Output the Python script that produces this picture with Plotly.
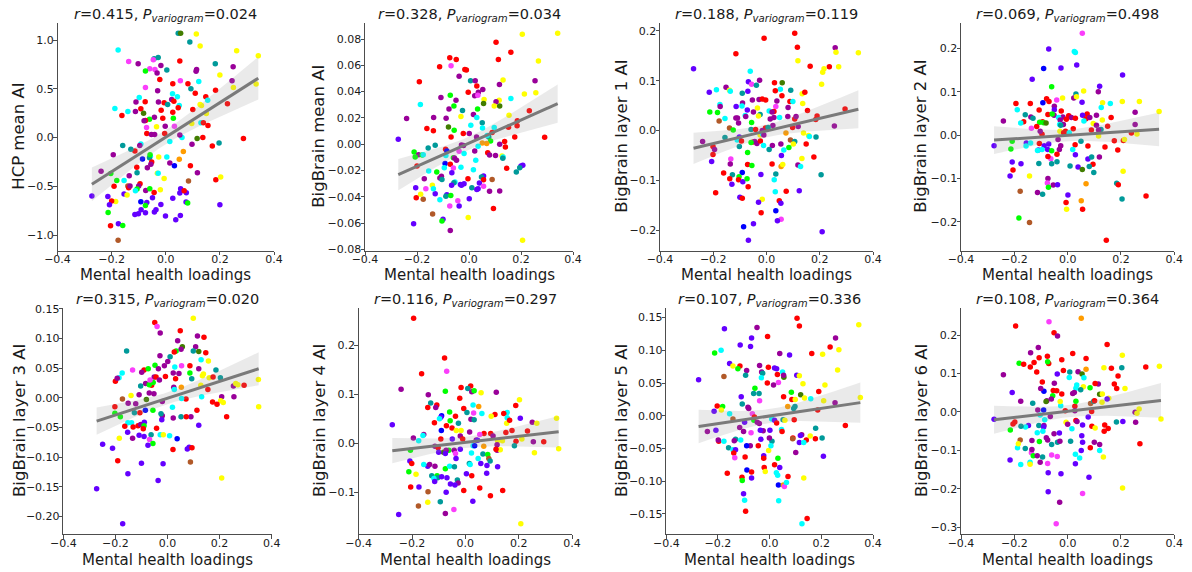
import numpy as np
import plotly.graph_objects as go

# ---------------- data ----------------
# network codes -> Cole-Anticevic network colours
NET_COLORS = {
    'R': '#ff0000', 'Y': '#ffff00', 'V': '#6400ff', 'P': '#990099', 'C': '#00ffff',
    'T': '#009a9a', 'G': '#00ff00', 'D': '#417d00', 'M': '#fa3efb', 'B': '#0000ff',
    'O': '#ff9c00', 'N': '#b15928'}

x_label = "Mental health loadings"
y_labels = ["HCP mean AI", "BigBrain mean AI", "BigBrain layer 1 AI", "BigBrain layer 2 AI",
            "BigBrain layer 3 AI", "BigBrain layer 4 AI", "BigBrain layer 5 AI", "BigBrain layer 6 AI"]
r_values = ["0.415", "0.328", "0.188", "0.069", "0.315", "0.116", "0.107", "0.108"]
p_values = ["0.024", "0.034", "0.119", "0.498", "0.020", "0.297", "0.336", "0.364"]
x_ticks = [-0.4, -0.2, 0.0, 0.2, 0.4]
y_ticks = [
    [-1.0, -0.5, 0.0, 0.5, 1.0],
    [-0.08, -0.06, -0.04, -0.02, 0.0, 0.02, 0.04, 0.06, 0.08],
    [-0.2, -0.1, 0.0, 0.1, 0.2],
    [-0.2, -0.1, 0.0, 0.1, 0.2],
    [-0.20, -0.15, -0.10, -0.05, 0.0, 0.05, 0.10, 0.15],
    [-0.1, 0.0, 0.1, 0.2],
    [-0.15, -0.10, -0.05, 0.0, 0.05, 0.10, 0.15],
    [-0.3, -0.2, -0.1, 0.0, 0.1, 0.2],
]
y_tick_formats = ['.1f', '.2f', '.1f', '.1f', '.2f', '.1f', '.2f', '.1f']

hcp_mean = [(0.046,1.07,'T'),(0.055,1.07,'D'),(0.113,1.063,'Y'),(0.089,0.98,'T'),(0.127,0.94,'Y'),(-0.176,0.899,'C'),(0.262,0.892,'Y'),(0.342,0.84,'Y'),(0.052,0.786,'R'),(-0.137,0.78,'M'),(-0.102,0.758,'P'),(-0.043,0.81,'T'),(-0.028,0.823,'T'),(-0.046,0.80,'M'),(0.183,0.758,'T'),(-0.018,0.741,'P'),(-0.059,0.707,'M'),(-0.040,0.70,'M'),(-0.075,0.683,'G'),(-0.032,0.662,'P'),(0.004,0.693,'T'),(0.114,0.70,'P'),(0.112,0.68,'P'),(0.249,0.727,'P'),(0.2,0.642,'Y'),(-0.022,0.597,'R'),(0.054,0.583,'M'),(0.245,0.583,'P'),(0.026,0.552,'R'),(0.082,0.552,'R'),(0.093,0.50,'T'),(0.122,0.576,'C'),(-0.075,0.515,'M'),(0.25,0.515,'Y'),(0.334,0.549,'Y'),(-0.03,0.48,'P'),(0.109,0.456,'R'),(0.184,0.487,'R'),(0.025,0.45,'C'),(0.043,0.419,'C'),(0.148,0.419,'R'),(0.155,0.384,'C'),(0.022,0.391,'P'),(0.03,0.374,'R'),(-0.098,0.412,'C'),(-0.11,0.364,'P'),(-0.076,0.367,'R'),(-0.027,0.364,'P'),(-0.006,0.357,'R'),(0.007,0.34,'T'),(0.05,0.33,'C'),(0.046,0.305,'R'),(-0.188,0.298,'C'),(-0.14,0.268,'C'),(-0.112,0.268,'P'),(-0.092,0.295,'R'),(-0.017,0.281,'R'),(0.026,0.26,'R'),(0.127,0.34,'Y'),(0.132,0.33,'Y'),(0.10,0.288,'R'),(0.228,0.346,'R'),(-0.082,0.25,'D'),(-0.162,0.226,'R'),(0.15,0.247,'Y'),(-0.042,0.209,'P'),(-0.011,0.199,'R'),(-0.06,0.189,'G'),(0.028,0.199,'G'),(-0.075,0.175,'R'),(-0.08,0.172,'P'),(0.13,0.151,'C'),(0.139,0.151,'R'),(0.156,0.123,'R'),(0.096,0.144,'Y'),(-0.002,0.117,'P'),(0.032,0.117,'M'),(-0.034,0.11,'Y'),(-0.071,0.103,'M'),(-0.07,0.041,'R'),(-0.053,0.031,'P'),(-0.041,0.031,'P'),(-0.004,0.041,'R'),(0.116,-0.01,'D'),(0.137,0.0,'R'),(0.287,-0.01,'R'),(0.015,-0.041,'C'),(0.06,0.0,'C'),(0.052,0.027,'P'),(0.197,-0.055,'T'),(0.172,-0.086,'R'),(0.097,-0.069,'P'),(-0.159,-0.082,'T'),(-0.092,-0.065,'C'),(-0.096,-0.082,'P'),(-0.114,-0.137,'R'),(-0.129,-0.12,'T'),(-0.194,-0.175,'P'),(0.065,-0.144,'O'),(-0.057,-0.192,'C'),(-0.06,-0.206,'T'),(-0.058,-0.175,'G'),(-0.026,-0.199,'Y'),(0.004,-0.199,'C'),(-0.052,-0.25,'R'),(-0.055,-0.274,'P'),(0.015,-0.26,'P'),(0.05,-0.223,'O'),(-0.086,-0.22,'B'),(-0.068,-0.309,'P'),(0.032,-0.29,'B'),(-0.107,-0.305,'R'),(0.091,-0.29,'R'),(-0.106,-0.36,'T'),(0.117,-0.36,'P'),(-0.239,-0.346,'P'),(-0.031,-0.367,'Y'),(-0.028,-0.367,'C'),(-0.135,-0.391,'P'),(-0.203,-0.37,'G'),(-0.006,-0.419,'Y'),(0.185,-0.432,'R'),(0.203,-0.405,'Y'),(0.084,-0.446,'N'),(-0.181,-0.44,'G'),(-0.154,-0.44,'C'),(-0.095,-0.473,'R'),(-0.191,-0.50,'R'),(-0.14,-0.497,'N'),(-0.137,-0.515,'R'),(-0.132,-0.497,'P'),(-0.1,-0.497,'P'),(-0.106,-0.528,'G'),(-0.112,-0.545,'C'),(-0.074,-0.542,'P'),(-0.02,-0.535,'Y'),(-0.059,-0.525,'G'),(-0.043,-0.563,'R'),(0.055,-0.525,'V'),(0.052,-0.57,'V'),(0.076,-0.566,'V'),(0.068,-0.545,'R'),(-0.154,-0.58,'V'),(-0.143,-0.59,'Y'),(-0.214,-0.604,'V'),(-0.273,-0.60,'V'),(-0.049,-0.617,'V'),(0.026,-0.624,'V'),(-0.092,-0.66,'B'),(-0.07,-0.666,'V'),(-0.185,-0.655,'Y'),(-0.2,-0.652,'R'),(0.075,-0.662,'V'),(0.081,-0.672,'G'),(-0.018,-0.686,'V'),(0.2,-0.69,'V'),(-0.208,-0.69,'V'),(-0.075,-0.696,'G'),(-0.091,-0.741,'V'),(-0.036,-0.741,'V'),(-0.042,-0.765,'V'),(-0.075,-0.772,'V'),(-0.101,-0.782,'V'),(-0.114,-0.789,'V'),(-0.213,-0.768,'G'),(0.054,-0.8,'V'),(-0.001,-0.806,'V'),(0.037,-0.844,'V'),(-0.175,-0.885,'V'),(-0.159,-0.902,'G'),(-0.204,-0.906,'R'),(-0.176,-1.053,'N')]

bb_mean = [(0.205,0.0836,'Y'),(0.341,0.0843,'Y'),(0.104,0.0775,'R'),(0.161,0.070,'R'),(-0.074,0.0658,'R'),(-0.049,0.0645,'R'),(0.113,0.0645,'R'),(0.267,0.0632,'Y'),(-0.069,0.0597,'M'),(-0.113,0.0589,'R'),(-0.016,0.0569,'R'),(-0.01,0.0564,'R'),(-0.038,0.0516,'P'),(0.006,0.0483,'T'),(0.024,0.0483,'P'),(0.131,0.0488,'Y'),(0.254,0.0483,'P'),(-0.191,0.0475,'R'),(0.117,0.0455,'P'),(0.053,0.0417,'P'),(0.036,0.0396,'P'),(0.03,0.0442,'R'),(-0.003,0.0396,'R'),(0.257,0.0391,'Y'),(0.213,0.0381,'Y'),(-0.072,0.0373,'G'),(0.022,0.0368,'P'),(-0.108,0.0356,'P'),(-0.05,0.0335,'P'),(0.034,0.0373,'M'),(0.058,0.034,'Y'),(0.161,0.0348,'C'),(0.116,0.0335,'Y'),(0.104,0.0323,'P'),(-0.187,0.0302,'C'),(0.056,0.031,'D'),(0.097,0.029,'Y'),(0.118,0.029,'D'),(-0.058,0.029,'G'),(-0.077,0.0267,'P'),(0.033,0.0267,'G'),(-0.025,0.0257,'T'),(0.232,0.0254,'R'),(0.154,0.0221,'Y'),(0.017,0.0226,'P'),(-0.24,0.0196,'P'),(-0.136,0.0203,'P'),(-0.088,0.0198,'P'),(-0.031,0.0211,'Y'),(0.03,0.0203,'C'),(0.051,0.0163,'T'),(0.186,0.0178,'R'),(0.007,0.0145,'C'),(-0.162,0.0119,'R'),(-0.079,0.0132,'D'),(-0.057,0.0107,'G'),(-0.137,0.0102,'R'),(0.185,0.014,'R'),(0.152,0.013,'R'),(0.052,0.0124,'C'),(0.097,0.0127,'C'),(0.089,0.0089,'R'),(-0.022,0.0081,'R'),(0.001,0.0081,'P'),(-0.069,0.0056,'R'),(-0.272,0.0038,'V'),(0.176,0.0056,'R'),(0.291,0.0053,'R'),(0.076,0.0056,'T'),(0.029,0.0056,'P'),(0.07,0.0066,'C'),(0.137,0.002,'R'),(0.083,0.0025,'G'),(0.051,0.001,'O'),(0.068,0.0005,'O'),(0.035,-0.0015,'C'),(-0.13,-0.0008,'T'),(0.118,0.0,'P'),(0.14,-0.002,'R'),(-0.157,-0.0028,'T'),(-0.029,-0.0005,'P'),(-0.021,-0.001,'P'),(-0.09,-0.0038,'R'),(-0.085,-0.0051,'B'),(-0.211,-0.0058,'G'),(-0.194,-0.0079,'P'),(-0.18,-0.0081,'G'),(-0.176,-0.0079,'C'),(-0.207,-0.0097,'G'),(-0.038,-0.0053,'M'),(-0.089,-0.0086,'C'),(-0.019,-0.0071,'C'),(0.022,-0.0051,'P'),(0.072,-0.0064,'R'),(0.079,-0.0081,'P'),(0.102,-0.0086,'P'),(0.127,-0.0089,'Y'),(0.131,-0.0097,'C'),(-0.06,-0.0102,'G'),(-0.056,-0.0104,'P'),(-0.048,-0.0122,'P'),(0.026,-0.0122,'C'),(0.13,-0.0107,'T'),(-0.092,-0.0147,'B'),(-0.072,-0.0152,'R'),(0.2,-0.0165,'V'),(0.207,-0.016,'V'),(0.195,-0.0178,'T'),(-0.031,-0.0175,'C'),(0.145,-0.0183,'R'),(-0.06,-0.018,'M'),(-0.095,-0.0178,'C'),(-0.2,-0.0165,'R'),(-0.066,-0.0216,'V'),(0.182,-0.0211,'T'),(-0.155,-0.0203,'C'),(-0.124,-0.0211,'G'),(0.017,-0.0193,'C'),(-0.172,-0.0262,'P'),(-0.106,-0.0244,'P'),(-0.112,-0.0257,'P'),(-0.104,-0.0267,'T'),(-0.004,-0.0262,'R'),(0.056,-0.0241,'V'),(0.048,-0.0249,'T'),(0.056,-0.0269,'R'),(0.089,-0.0267,'N'),(-0.054,-0.0287,'C'),(-0.058,-0.0292,'T'),(-0.067,-0.0312,'V'),(-0.033,-0.0305,'V'),(-0.019,-0.03,'V'),(-0.029,-0.0312,'V'),(0.04,-0.0295,'V'),(0.056,-0.032,'M'),(0.011,-0.033,'T'),(0.035,-0.0338,'V'),(0.03,-0.0343,'V'),(0.079,-0.0358,'P'),(0.118,-0.0356,'P'),(-0.205,-0.033,'V'),(-0.166,-0.0338,'M'),(-0.13,-0.0376,'V'),(-0.141,-0.0312,'Y'),(-0.137,-0.0338,'C'),(-0.186,-0.0381,'Y'),(-0.085,-0.0383,'V'),(-0.089,-0.0396,'T'),(-0.07,-0.0389,'G'),(-0.112,-0.0422,'C'),(-0.176,-0.0419,'N'),(-0.203,-0.0406,'R'),(0.001,-0.0414,'V'),(-0.043,-0.0429,'M'),(-0.074,-0.047,'M'),(-0.038,-0.047,'V'),(0.094,-0.0488,'R'),(-0.14,-0.0531,'N'),(-0.003,-0.0556,'Y'),(-0.1,-0.0571,'V'),(-0.104,-0.0584,'G'),(-0.213,-0.0604,'V'),(-0.072,-0.0655,'P'),(0.206,-0.0729,'Y')]

bb_layer1 = [(0.106,0.195,'R'),(-0.009,0.185,'R'),(0.258,0.166,'P'),(0.116,0.167,'R'),(-0.115,0.154,'R'),(0.261,0.157,'Y'),(0.345,0.156,'Y'),(0.118,0.14,'Y'),(0.164,0.129,'R'),(0.236,0.128,'R'),(0.271,0.128,'Y'),(0.216,0.124,'Y'),(0.211,0.117,'Y'),(-0.274,0.124,'V'),(-0.061,0.119,'C'),(-0.026,0.101,'P'),(-0.068,0.098,'V'),(-0.056,0.093,'M'),(0.03,0.096,'R'),(0.059,0.096,'D'),(0.207,0.093,'Y'),(-0.038,0.091,'T'),(-0.152,0.087,'P'),(-0.188,0.082,'C'),(-0.215,0.077,'V'),(-0.139,0.081,'Y'),(-0.136,0.079,'C'),(-0.091,0.075,'T'),(-0.07,0.079,'V'),(0.052,0.083,'C'),(0.033,0.08,'R'),(0.091,0.081,'T'),(0.134,0.074,'Y'),(0.144,0.077,'R'),(0.058,0.07,'R'),(-0.053,0.061,'P'),(-0.028,0.062,'P'),(-0.016,0.063,'R'),(-0.003,0.061,'R'),(0.039,0.059,'P'),(0.088,0.058,'R'),(0.099,0.058,'C'),(-0.09,0.055,'P'),(0.136,0.054,'Y'),(-0.175,0.052,'C'),(-0.174,0.048,'P'),(-0.092,0.049,'C'),(-0.114,0.048,'V'),(0.081,0.046,'P'),(-0.034,0.045,'Y'),(0.035,0.048,'M'),(-0.072,0.041,'V'),(0.154,0.04,'R'),(-0.049,0.037,'P'),(-0.213,0.037,'G'),(-0.184,0.036,'G'),(0.295,0.043,'R'),(-0.024,0.032,'T'),(-0.03,0.029,'Y'),(0.01,0.039,'C'),(0.028,0.038,'R'),(0.021,0.037,'P'),(-0.08,0.03,'C'),(-0.115,0.025,'P'),(-0.109,0.025,'P'),(-0.156,0.024,'C'),(-0.078,0.028,'P'),(0.014,0.023,'P'),(0.028,0.026,'P'),(0.049,0.026,'C'),(0.08,0.028,'P'),(0.106,0.023,'R'),(0.111,0.028,'P'),(0.19,0.029,'R'),(0.185,0.022,'R'),(-0.056,0.016,'G'),(-0.105,0.015,'P'),(0.119,0.008,'P'),(0.098,0.006,'R'),(0.255,0.009,'P'),(0.024,0.01,'P'),(-0.178,0.019,'N'),(-0.139,0.005,'N'),(-0.125,0.001,'G'),(-0.058,0.002,'T'),(-0.041,0.002,'R'),(-0.004,0.005,'R'),(0.006,0.006,'T'),(-0.016,0.0,'P'),(0.139,-0.005,'Y'),(0.158,-0.01,'Y'),(0.161,-0.012,'C'),(0.186,-0.013,'T'),(-0.024,-0.009,'Y'),(-0.015,-0.007,'C'),(0.073,-0.005,'O'),(-0.156,-0.014,'T'),(-0.102,-0.013,'V'),(-0.24,-0.022,'P'),(-0.11,-0.019,'C'),(-0.094,-0.021,'R'),(-0.05,-0.023,'R'),(-0.044,-0.022,'P'),(-0.036,-0.026,'P'),(-0.023,-0.021,'R'),(0.09,-0.019,'N'),(0.106,-0.022,'T'),(0.101,-0.027,'Y'),(0.149,-0.027,'R'),(-0.201,-0.032,'R'),(-0.102,-0.032,'T'),(-0.011,-0.03,'C'),(0.022,-0.03,'P'),(0.054,-0.027,'P'),(-0.058,-0.024,'G'),(0.084,-0.034,'G'),(-0.195,-0.038,'P'),(0.01,-0.038,'T'),(0.065,-0.039,'C'),(-0.201,-0.048,'R'),(-0.071,-0.044,'G'),(0.056,-0.05,'V'),(0.178,-0.053,'R'),(-0.134,-0.057,'M'),(-0.136,-0.067,'P'),(0.133,-0.056,'Y'),(0.118,-0.069,'P'),(0.128,-0.072,'C'),(-0.206,-0.062,'V'),(-0.071,-0.068,'R'),(-0.055,-0.07,'G'),(0.055,-0.072,'O'),(0.061,-0.068,'Y'),(0.021,-0.067,'R'),(0.035,-0.087,'T'),(-0.021,-0.088,'V'),(0.205,-0.089,'T'),(-0.161,-0.085,'R'),(-0.091,-0.084,'B'),(-0.128,-0.089,'T'),(-0.103,-0.093,'G'),(-0.138,-0.097,'R'),(-0.105,-0.099,'R'),(-0.089,-0.103,'V'),(-0.073,-0.097,'G'),(0.029,-0.099,'C'),(-0.13,-0.108,'V'),(-0.069,-0.113,'R'),(0.123,-0.121,'V'),(0.074,-0.122,'R'),(0.033,-0.123,'C'),(-0.191,-0.125,'R'),(-0.1,-0.134,'V'),(-0.091,-0.136,'R'),(-0.016,-0.138,'Y'),(0.048,-0.141,'R'),(-0.03,-0.144,'V'),(0.054,-0.146,'V'),(0.035,-0.161,'B'),(-0.02,-0.165,'R'),(0.055,-0.178,'M'),(0.041,-0.181,'V'),(-0.049,-0.187,'V'),(-0.086,-0.193,'B'),(0.209,-0.203,'V'),(-0.068,-0.22,'V'),(-0.01,-0.009,'P')]

bb_layer2 = [(0.055,0.235,'M'),(-0.071,0.199,'V'),(0.025,0.193,'C'),(0.029,0.191,'C'),(0.034,0.162,'V'),(-0.09,0.154,'B'),(-0.025,0.155,'V'),(0.206,0.139,'V'),(-0.133,0.129,'V'),(0.12,0.113,'V'),(-0.06,0.112,'G'),(0.06,0.102,'Y'),(0.115,0.10,'P'),(0.031,0.095,'T'),(0.023,0.086,'P'),(0.033,0.089,'Y'),(-0.019,0.086,'Y'),(-0.079,0.084,'R'),(-0.07,0.078,'R'),(-0.093,0.075,'B'),(-0.041,0.081,'M'),(-0.194,0.073,'R'),(-0.14,0.073,'R'),(0.054,0.076,'V'),(0.205,0.078,'Y'),(0.269,0.078,'Y'),(-0.05,0.067,'P'),(0.131,0.075,'Y'),(0.126,0.064,'C'),(0.16,0.073,'C'),(-0.05,0.059,'V'),(-0.107,0.058,'R'),(-0.189,0.059,'C'),(-0.024,0.056,'R'),(0.253,0.053,'P'),(0.343,0.055,'Y'),(-0.159,0.047,'T'),(-0.074,0.048,'R'),(-0.051,0.046,'P'),(-0.058,0.049,'G'),(0.073,0.049,'R'),(0.056,0.046,'V'),(0.108,0.046,'P'),(0.004,0.045,'R'),(0.014,0.041,'P'),(-0.018,0.042,'P'),(0.029,0.039,'R'),(0.069,0.038,'R'),(-0.138,0.042,'P'),(-0.034,0.041,'C'),(0.163,0.041,'R'),(0.083,0.041,'P'),(-0.13,0.039,'T'),(-0.005,0.037,'R'),(-0.241,0.033,'P'),(0.061,0.033,'C'),(0.13,0.035,'Y'),(-0.165,0.031,'R'),(-0.028,0.035,'P'),(-0.094,0.031,'R'),(-0.176,0.028,'C'),(-0.105,0.03,'G'),(-0.09,0.029,'G'),(-0.081,0.028,'D'),(-0.016,0.025,'P'),(0.096,0.027,'Y'),(0.253,0.025,'P'),(-0.03,0.025,'C'),(-0.116,0.02,'R'),(0.108,0.023,'P'),(-0.136,0.016,'M'),(-0.026,0.023,'T'),(0.021,0.015,'R'),(0.15,0.021,'R'),(0.089,0.012,'R'),(0.125,0.013,'T'),(0.116,0.012,'P'),(-0.029,0.009,'Y'),(-0.008,0.009,'R'),(-0.015,0.006,'R'),(0.006,0.006,'C'),(-0.096,0.002,'R'),(0.239,0.005,'R'),(0.26,0.003,'Y'),(-0.103,0.009,'P'),(0.116,-0.002,'Y'),(-0.036,-0.01,'P'),(0.209,-0.012,'R'),(0.175,-0.013,'R'),(0.213,-0.01,'Y'),(-0.276,-0.024,'V'),(-0.208,-0.014,'G'),(-0.155,-0.018,'V'),(-0.139,-0.018,'C'),(-0.156,-0.025,'C'),(-0.106,-0.019,'R'),(-0.088,-0.024,'V'),(-0.026,-0.024,'P'),(0.028,-0.022,'R'),(0.05,-0.014,'T'),(-0.071,-0.02,'V'),(-0.11,-0.034,'V'),(-0.096,-0.033,'C'),(-0.113,-0.035,'C'),(-0.075,-0.033,'V'),(-0.031,-0.033,'P'),(0.076,-0.025,'R'),(0.14,-0.027,'R'),(0.188,-0.034,'R'),(-0.213,-0.032,'G'),(-0.06,-0.036,'G'),(0.019,-0.033,'C'),(0.029,-0.045,'V'),(-0.04,-0.044,'R'),(-0.063,-0.054,'M'),(0.076,-0.055,'V'),(-0.074,-0.049,'R'),(-0.208,-0.062,'V'),(-0.175,-0.066,'V'),(-0.205,-0.08,'R'),(-0.06,-0.066,'T'),(-0.04,-0.061,'T'),(0.009,-0.071,'T'),(0.039,-0.073,'V'),(0.095,-0.067,'R'),(0.09,-0.05,'T'),(0.119,-0.05,'P'),(-0.108,-0.065,'T'),(0.081,-0.072,'T'),(0.055,-0.079,'D'),(0.098,-0.086,'T'),(0.208,-0.083,'Y'),(-0.216,-0.094,'V'),(-0.143,-0.094,'Y'),(-0.074,-0.1,'P'),(-0.076,-0.11,'M'),(-0.054,-0.115,'P'),(-0.038,-0.114,'V'),(-0.072,-0.12,'G'),(0.069,-0.112,'O'),(0.184,-0.111,'T'),(0.19,-0.114,'R'),(-0.113,-0.132,'P'),(-0.178,-0.129,'N'),(-0.094,-0.136,'T'),(0.001,-0.138,'V'),(0.294,-0.14,'R'),(0.204,-0.147,'T'),(0.051,-0.151,'O'),(-0.006,-0.155,'R'),(-0.004,-0.171,'Y'),(0.056,-0.171,'R'),(-0.183,-0.191,'G'),(-0.143,-0.201,'N'),(0.145,-0.242,'R')]

bb_layer3 = [(0.099,0.134,'Y'),(-0.049,0.127,'R'),(-0.04,0.12,'M'),(0.049,0.113,'R'),(-0.028,0.109,'P'),(0.115,0.104,'P'),(0.14,0.102,'R'),(0.039,0.096,'P'),(0.108,0.086,'P'),(0.057,0.086,'D'),(0.052,0.082,'P'),(-0.157,0.079,'T'),(0.099,0.079,'T'),(0.12,0.078,'D'),(0.033,0.079,'G'),(0.026,0.077,'R'),(-0.029,0.071,'P'),(0.01,0.069,'T'),(0.147,0.076,'R'),(0.129,0.064,'C'),(0.157,0.062,'Y'),(0.001,0.061,'P'),(-0.048,0.055,'G'),(-0.012,0.054,'P'),(0.086,0.054,'R'),(0.054,0.054,'M'),(-0.09,0.047,'R'),(-0.099,0.043,'P'),(-0.074,0.049,'G'),(-0.035,0.049,'P'),(-0.134,0.047,'M'),(0.028,0.052,'C'),(0.12,0.049,'P'),(-0.174,0.042,'C'),(-0.2,0.028,'R'),(0.186,0.047,'T'),(-0.051,0.035,'P'),(-0.186,0.034,'C'),(-0.193,0.033,'P'),(-0.044,0.035,'R'),(-0.008,0.036,'R'),(0.044,0.041,'P'),(0.086,0.042,'G'),(0.16,0.034,'Y'),(0.022,0.042,'P'),(0.031,0.032,'R'),(-0.031,0.03,'P'),(0.093,0.032,'T'),(0.175,0.035,'R'),(0.203,0.034,'T'),(0.138,0.04,'Y'),(0.134,0.037,'Y'),(-0.103,0.02,'T'),(-0.084,0.024,'P'),(-0.061,0.021,'R'),(-0.07,0.022,'G'),(-0.055,0.026,'G'),(-0.14,0.004,'Y'),(-0.109,0.005,'P'),(-0.07,0.008,'P'),(-0.067,0.03,'M'),(0.024,0.018,'P'),(0.026,0.014,'C'),(0.053,0.018,'O'),(0.128,0.021,'Y'),(0.253,0.02,'P'),(0.262,0.024,'Y'),(0.27,0.022,'Y'),(0.294,0.021,'R'),(0.349,0.031,'Y'),(-0.081,-0.003,'D'),(-0.173,-0.002,'N'),(-0.052,0.007,'P'),(0.071,-0.002,'R'),(0.054,-0.001,'C'),(0.131,0.002,'C'),(0.155,0.014,'R'),(0.173,-0.007,'R'),(0.208,0.002,'P'),(0.255,0.002,'P'),(0.204,-0.005,'Y'),(0.214,-0.008,'Y'),(0.19,-0.011,'R'),(-0.02,-0.006,'P'),(0.019,-0.016,'C'),(-0.122,-0.01,'P'),(-0.202,-0.015,'R'),(-0.151,-0.009,'P'),(0.113,-0.021,'R'),(0.35,-0.015,'Y'),(-0.127,-0.025,'T'),(-0.106,-0.025,'R'),(-0.056,-0.021,'G'),(-0.02,-0.03,'P'),(-0.025,-0.027,'T'),(0.022,-0.034,'P'),(-0.202,-0.026,'G'),(-0.181,-0.032,'G'),(-0.152,-0.042,'C'),(-0.138,-0.042,'C'),(-0.113,-0.047,'R'),(-0.132,-0.049,'R'),(-0.103,-0.045,'P'),(-0.089,-0.041,'V'),(0.052,-0.032,'T'),(0.09,-0.032,'P'),(0.072,-0.032,'R'),(-0.042,-0.051,'R'),(-0.022,-0.037,'V'),(-0.09,-0.047,'G'),(-0.164,-0.048,'R'),(-0.093,-0.052,'R'),(-0.134,-0.068,'P'),(-0.109,-0.063,'V'),(-0.153,-0.058,'V'),(-0.09,-0.065,'V'),(-0.028,-0.062,'C'),(-0.016,-0.062,'Y'),(0.008,-0.064,'C'),(-0.063,-0.062,'T'),(0.037,-0.069,'B'),(-0.069,-0.07,'M'),(-0.056,-0.077,'G'),(-0.075,-0.08,'V'),(-0.185,-0.068,'Y'),(-0.211,-0.085,'V'),(-0.249,-0.078,'V'),(-0.191,-0.106,'R'),(0.076,-0.086,'V'),(0.083,-0.083,'V'),(0.094,-0.084,'R'),(0.021,-0.087,'R'),(0.088,-0.108,'N'),(-0.1,-0.11,'V'),(-0.017,-0.111,'V'),(-0.152,-0.128,'V'),(0.208,-0.135,'Y'),(-0.036,-0.139,'V'),(-0.272,-0.153,'V'),(-0.172,-0.212,'V'),(-0.085,-0.021,'B'),(0.227,-0.032,'R'),(0.12,-0.046,'V')]

bb_layer4 = [(-0.194,0.255,'R'),(-0.078,0.174,'R'),(-0.07,0.147,'M'),(-0.164,0.142,'R'),(-0.241,0.11,'P'),(-0.016,0.114,'R'),(0.02,0.117,'R'),(0.009,0.112,'T'),(0.024,0.105,'P'),(0.033,0.107,'G'),(-0.075,0.106,'G'),(0.059,0.103,'Y'),(0.116,0.104,'P'),(-0.139,0.099,'P'),(-0.021,0.092,'R'),(-0.13,0.082,'T'),(-0.107,0.078,'R'),(-0.111,0.073,'P'),(-0.141,0.073,'R'),(0.189,0.077,'R'),(0.203,0.089,'Y'),(0.029,0.078,'C'),(0.05,0.075,'O'),(-0.006,0.071,'R'),(0.062,0.061,'C'),(-0.059,0.064,'G'),(0.031,0.062,'M'),(0.006,0.063,'T'),(0.157,0.063,'C'),(0.111,0.059,'R'),(0.144,0.061,'R'),(-0.089,0.056,'B'),(-0.092,0.053,'V'),(-0.037,0.055,'R'),(0.097,0.055,'Y'),(0.157,0.052,'C'),(0.342,0.051,'Y'),(0.021,0.049,'P'),(0.033,0.048,'T'),(-0.097,0.05,'C'),(-0.057,0.046,'G'),(0.206,0.051,'V'),(-0.116,0.042,'R'),(-0.026,0.041,'T'),(0.155,0.041,'Y'),(0.166,0.047,'R'),(0.251,0.043,'P'),(0.268,0.041,'Y'),(-0.071,0.036,'R'),(-0.05,0.031,'R'),(-0.09,0.026,'B'),(0.016,0.023,'P'),(-0.034,0.026,'Y'),(-0.016,0.026,'Y'),(0.152,0.022,'R'),(0.175,0.026,'R'),(0.233,0.025,'R'),(0.07,0.02,'R'),(0.054,0.018,'M'),(0.095,0.02,'R'),(0.104,0.015,'P'),(-0.019,0.015,'P'),(-0.01,0.009,'R'),(-0.049,0.009,'V'),(-0.092,0.009,'R'),(-0.195,0.011,'P'),(-0.175,0.005,'C'),(-0.156,0.018,'P'),(-0.159,0.016,'C'),(0.041,0.007,'P'),(0.046,0.006,'V'),(0.139,0.005,'Y'),(0.121,0.005,'Y'),(0.19,0.004,'R'),(0.255,0.003,'P'),(0.294,0.003,'R'),(0.212,0.009,'Y'),(0.029,-0.005,'C'),(0.035,-0.005,'B'),(0.119,-0.003,'P'),(0.069,-0.006,'O'),(0.184,-0.005,'T'),(-0.114,-0.006,'P'),(-0.062,-0.014,'G'),(-0.082,-0.018,'D'),(-0.072,-0.014,'P'),(-0.102,-0.009,'R'),(-0.042,-0.014,'P'),(-0.037,-0.021,'M'),(-0.019,-0.012,'V'),(-0.206,-0.014,'G'),(-0.035,-0.031,'V'),(-0.075,-0.021,'V'),(-0.1,-0.018,'V'),(0.066,-0.022,'T'),(0.119,-0.014,'P'),(0.131,-0.013,'Y'),(0.048,-0.031,'C'),(0.058,-0.041,'V'),(0.084,-0.023,'G'),(0.088,-0.031,'N'),(0.093,-0.036,'T'),(0.259,-0.019,'Y'),(0.023,-0.02,'C'),(0.115,-0.012,'R'),(-0.208,-0.036,'V'),(-0.201,-0.041,'R'),(-0.114,-0.047,'P'),(-0.141,-0.047,'V'),(-0.156,-0.043,'C'),(-0.134,-0.043,'P'),(0.015,-0.041,'T'),(0.018,-0.043,'C'),(0.081,-0.045,'V'),(0.121,-0.048,'V'),(-0.075,-0.052,'G'),(-0.059,-0.047,'C'),(-0.041,-0.048,'T'),(0.004,-0.062,'V'),(0.024,-0.066,'R'),(0.08,-0.061,'V'),(-0.126,-0.066,'T'),(-0.106,-0.066,'G'),(-0.104,-0.07,'T'),(-0.118,-0.072,'C'),(-0.089,-0.068,'V'),(-0.069,-0.07,'V'),(-0.115,-0.078,'V'),(-0.03,-0.075,'T'),(-0.027,-0.081,'P'),(-0.056,-0.083,'V'),(-0.039,-0.085,'V'),(-0.205,-0.089,'R'),(-0.174,-0.089,'V'),(0.054,-0.091,'R'),(0.14,-0.096,'R'),(-0.006,-0.096,'R'),(-0.14,-0.099,'N'),(-0.072,-0.1,'V'),(-0.094,-0.119,'T'),(0.028,-0.118,'V'),(-0.141,-0.12,'Y'),(0.094,-0.107,'R'),(-0.176,-0.128,'N'),(-0.043,-0.135,'M'),(-0.075,-0.143,'P'),(-0.25,-0.145,'V'),(0.208,-0.164,'Y'),(-0.274,0.038,'V'),(-0.212,-0.058,'G'),(-0.185,-0.063,'Y'),(0.35,-0.011,'Y')]

bb_layer5 = [(0.106,0.149,'R'),(0.345,0.139,'Y'),(0.115,0.137,'R'),(-0.049,0.135,'P'),(-0.175,0.133,'V'),(-0.008,0.121,'R'),(-0.07,0.119,'V'),(0.255,0.119,'P'),(0.268,0.101,'Y'),(-0.188,0.1,'C'),(-0.074,0.106,'V'),(-0.114,0.108,'V'),(0.234,0.105,'R'),(-0.213,0.096,'G'),(0.039,0.095,'P'),(0.077,0.093,'V'),(0.163,0.095,'R'),(0.205,0.094,'Y'),(-0.155,0.08,'V'),(-0.142,0.076,'Y'),(-0.115,0.076,'R'),(-0.039,0.077,'P'),(-0.005,0.074,'R'),(0.019,0.073,'V'),(0.027,0.072,'V'),(-0.123,0.072,'G'),(-0.089,0.069,'P'),(-0.093,0.062,'T'),(0.05,0.067,'C'),(0.03,0.063,'R'),(-0.031,0.067,'P'),(-0.027,0.065,'T'),(0.055,0.059,'D'),(0.054,0.062,'P'),(-0.032,0.058,'C'),(0.105,0.062,'V'),(0.115,0.061,'Y'),(-0.177,0.06,'N'),(0.263,0.07,'Y'),(-0.275,0.055,'V'),(-0.009,0.05,'R'),(0.034,0.051,'M'),(0.129,0.049,'Y'),(0.015,0.047,'P'),(0.214,0.047,'Y'),(-0.057,0.042,'G'),(-0.062,0.034,'T'),(-0.041,0.034,'T'),(-0.11,0.029,'V'),(0.084,0.036,'G'),(0.19,0.037,'R'),(0.12,0.032,'D'),(0.135,0.027,'Y'),(0.054,0.029,'R'),(0.086,0.025,'R'),(0.099,0.025,'Y'),(-0.039,0.023,'M'),(0.159,0.026,'C'),(0.209,0.023,'Y'),(0.351,0.028,'Y'),(-0.106,0.018,'T'),(0.253,0.02,'P'),(-0.084,0.013,'P'),(-0.182,0.014,'G'),(-0.081,0.011,'P'),(-0.203,0.015,'R'),(-0.187,0.009,'Y'),(0.07,0.014,'O'),(0.098,0.014,'T'),(0.093,0.011,'T'),(-0.215,0.007,'V'),(-0.155,0.003,'C'),(-0.067,0.003,'M'),(-0.061,-0.007,'G'),(-0.059,-0.002,'R'),(-0.142,-0.005,'N'),(0.008,-0.005,'C'),(0.019,-0.007,'V'),(0.052,-0.006,'T'),(0.059,-0.007,'Y'),(0.095,-0.006,'R'),(-0.097,-0.01,'V'),(-0.048,-0.01,'P'),(-0.04,-0.012,'P'),(0.027,-0.011,'R'),(0.293,-0.015,'R'),(0.046,-0.021,'C'),(0.048,-0.024,'R'),(-0.025,-0.023,'P'),(-0.036,-0.022,'V'),(-0.072,-0.026,'M'),(-0.101,-0.024,'P'),(-0.241,-0.024,'P'),(-0.208,-0.022,'V'),(-0.116,-0.018,'P'),(0.178,-0.019,'T'),(0.001,-0.022,'V'),(0.124,-0.029,'P'),(0.119,-0.03,'V'),(0.09,-0.034,'R'),(0.089,-0.035,'N'),(0.203,-0.034,'T'),(0.177,-0.035,'R'),(0.142,-0.037,'R'),(0.157,-0.031,'Y'),(-0.034,-0.036,'V'),(-0.197,-0.039,'R'),(-0.199,-0.037,'P'),(-0.177,-0.039,'C'),(-0.132,-0.036,'T'),(-0.137,-0.038,'P'),(-0.112,-0.037,'C'),(0.009,-0.039,'T'),(-0.001,-0.034,'P'),(0.115,-0.041,'V'),(0.132,-0.041,'C'),(-0.044,-0.046,'R'),(-0.075,-0.046,'P'),(-0.089,-0.046,'B'),(-0.159,-0.049,'T'),(-0.142,-0.052,'C'),(-0.132,-0.052,'V'),(-0.004,-0.053,'Y'),(0.005,-0.046,'C'),(0.101,-0.056,'P'),(0.208,-0.062,'V'),(-0.139,-0.057,'R'),(-0.135,-0.064,'M'),(-0.095,-0.063,'R'),(-0.023,-0.061,'V'),(-0.023,-0.065,'R'),(0.032,-0.065,'G'),(0.019,-0.075,'R'),(0.039,-0.079,'V'),(-0.021,-0.079,'R'),(-0.088,-0.083,'B'),(-0.017,-0.085,'Y'),(0.026,-0.087,'C'),(0.031,-0.091,'C'),(0.071,-0.093,'R'),(-0.07,-0.095,'V'),(-0.164,-0.088,'R'),(-0.07,-0.086,'R'),(0.132,-0.095,'Y'),(-0.107,-0.094,'R'),(-0.106,-0.099,'G'),(0.034,-0.106,'B'),(0.053,-0.106,'O'),(0.057,-0.108,'M'),(0.065,-0.102,'C'),(-0.101,-0.119,'V'),(-0.097,-0.129,'C'),(0.035,-0.13,'C'),(-0.093,-0.146,'R'),(0.145,-0.157,'R'),(0.125,-0.165,'C'),(0.186,0.009,'R')]

bb_layer6 = [(0.051,0.244,'O'),(-0.07,0.235,'M'),(-0.195,0.224,'R'),(-0.051,0.206,'R'),(-0.038,0.198,'P'),(0.148,0.176,'R'),(-0.11,0.168,'P'),(0.019,0.152,'R'),(-0.139,0.154,'P'),(0.205,0.148,'Y'),(-0.076,0.145,'R'),(-0.107,0.141,'R'),(0.069,0.139,'R'),(-0.022,0.136,'R'),(-0.071,0.126,'R'),(-0.075,0.131,'G'),(-0.182,0.127,'G'),(-0.165,0.124,'R'),(-0.126,0.129,'R'),(-0.14,0.117,'R'),(0.136,0.115,'Y'),(0.164,0.114,'R'),(0.203,0.115,'T'),(0.293,0.117,'R'),(0.344,0.119,'Y'),(0.069,0.111,'O'),(-0.016,0.108,'R'),(0.008,0.104,'T'),(0.039,0.105,'P'),(-0.116,0.104,'R'),(-0.039,0.099,'V'),(-0.241,0.097,'P'),(0.054,0.099,'D'),(0.006,0.09,'C'),(0.189,0.094,'R'),(0.061,0.089,'C'),(-0.095,0.078,'R'),(0.175,0.073,'R'),(0.115,0.073,'P'),(0.103,0.074,'R'),(0.034,0.07,'C'),(-0.05,0.075,'P'),(0.184,0.061,'R'),(0.215,0.061,'Y'),(0.059,0.066,'Y'),(0.084,0.063,'G'),(-0.054,0.056,'R'),(-0.041,0.055,'R'),(0.031,0.062,'C'),(-0.089,0.054,'B'),(-0.101,0.061,'P'),(-0.208,0.051,'V'),(0.049,0.058,'T'),(0.019,0.048,'P'),(0.025,0.051,'P'),(-0.022,0.047,'R'),(0.12,0.046,'D'),(0.13,0.047,'Y'),(-0.056,0.042,'G'),(-0.061,0.034,'P'),(0.154,0.036,'Y'),(0.086,0.022,'N'),(-0.026,0.016,'C'),(-0.176,0.028,'P'),(-0.131,0.023,'T'),(-0.078,0.029,'P'),(-0.081,0.027,'D'),(-0.028,0.027,'Y'),(0.027,0.015,'R'),(0.031,0.028,'G'),(0.098,0.028,'T'),(0.101,0.029,'R'),(0.129,0.025,'Y'),(0.148,0.034,'V'),(-0.009,0.003,'R'),(-0.112,0.005,'P'),(-0.09,0.005,'B'),(0.027,0.003,'P'),(0.09,0.001,'R'),(-0.205,-0.031,'R'),(-0.276,-0.019,'V'),(-0.215,-0.047,'G'),(-0.103,-0.008,'C'),(-0.065,-0.012,'P'),(-0.086,-0.02,'C'),(-0.108,-0.035,'T'),(-0.089,-0.035,'P'),(-0.09,-0.039,'V'),(-0.006,-0.027,'Y'),(0.0,-0.032,'P'),(0.031,-0.022,'R'),(0.035,-0.025,'P'),(0.077,-0.013,'V'),(0.056,-0.034,'V'),(0.016,-0.044,'C'),(0.091,-0.037,'R'),(0.139,-0.034,'R'),(0.152,-0.043,'R'),(0.137,-0.05,'R'),(0.103,-0.042,'Y'),(0.183,-0.026,'T'),(0.207,-0.025,'V'),(0.255,-0.027,'P'),(0.35,-0.018,'Y'),(0.253,-0.001,'P'),(0.26,-0.003,'Y'),(0.268,0.008,'Y'),(-0.147,-0.035,'V'),(-0.158,-0.039,'C'),(-0.175,-0.037,'T'),(-0.198,-0.026,'R'),(-0.136,-0.106,'M'),(-0.114,-0.054,'C'),(-0.093,-0.05,'C'),(-0.106,-0.077,'G'),(-0.08,-0.067,'P'),(-0.051,-0.057,'P'),(-0.075,-0.073,'P'),(-0.031,-0.055,'V'),(-0.038,-0.079,'T'),(-0.06,-0.085,'T'),(-0.029,-0.076,'P'),(0.011,-0.076,'T'),(0.053,-0.062,'V'),(0.056,-0.079,'V'),(0.1,-0.079,'P'),(0.12,-0.085,'P'),(0.085,-0.093,'R'),(0.271,-0.083,'R'),(0.12,-0.1,'C'),(0.134,-0.117,'Y'),(0.051,-0.1,'V'),(0.029,-0.11,'C'),(0.045,-0.12,'C'),(0.029,-0.135,'V'),(-0.216,-0.125,'V'),(-0.159,-0.095,'T'),(-0.188,-0.093,'C'),(-0.134,-0.074,'P'),(-0.134,-0.098,'P'),(-0.129,-0.114,'G'),(-0.114,-0.114,'P'),(-0.094,-0.117,'T'),(-0.178,-0.073,'N'),(-0.185,-0.083,'Y'),(-0.176,-0.137,'C'),(-0.141,-0.131,'C'),(-0.141,-0.136,'Y'),(-0.103,-0.131,'P'),(-0.075,-0.134,'M'),(-0.06,-0.112,'M'),(-0.039,-0.116,'M'),(-0.073,-0.158,'V'),(-0.025,-0.161,'V'),(0.08,-0.17,'V'),(0.206,-0.198,'Y'),(-0.073,-0.208,'V'),(0.056,-0.212,'M'),(-0.03,-0.235,'P'),(-0.043,-0.291,'M')]

panels_data = [hcp_mean, bb_mean, bb_layer1, bb_layer2, bb_layer3, bb_layer4, bb_layer5, bb_layer6]

# ---------------- layout geometry (pixels of the 1192x572 page) ----------------
W, H = 1192, 572
col_px = [(57.5, 274), (365, 573), (660, 873), (961, 1174.3),
          (63.3, 271.7), (358.7, 572), (666.3, 873), (961, 1174.3)]
row_px = [(23, 250.5)] * 4 + [(308, 534)] * 4
ylab_x_px = [19, 319, 622, 921, 19, 319, 621, 921]

FONT = "DejaVu Sans"
AXIS_COLOR = "#4d4d4d"
TEXT_COLOR = "#1a1a1a"


def px_x(p):
    return p / W


def px_y(p):
    return 1 - p / H


def reg_band(x, y, n_grid=120):
    x = np.asarray(x, float)
    y = np.asarray(y, float)
    n = len(x)
    slope, icpt = np.polyfit(x, y, 1)
    grid = np.linspace(x.min(), x.max(), n_grid)
    fit = icpt + slope * grid
    resid = y - (icpt + slope * x)
    s = np.sqrt(np.sum(resid ** 2) / (n - 2))
    sxx = np.sum((x - x.mean()) ** 2)
    se = s * np.sqrt(1.0 / n + (grid - x.mean()) ** 2 / sxx)
    t = 1.97
    return grid, fit, fit - t * se, fit + t * se


fig = go.Figure()
annotations = []

for i, pts in enumerate(panels_data):
    k = i + 1
    xa = 'x' if k == 1 else f'x{k}'
    ya = 'y' if k == 1 else f'y{k}'
    xs = [p[0] for p in pts]
    ys = [p[1] for p in pts]
    cols = [NET_COLORS[p[2]] for p in pts]

    fig.add_trace(go.Scatter(x=xs, y=ys, mode='markers', xaxis=xa, yaxis=ya,
                             marker=dict(size=5.5, color=cols, line=dict(width=0)),
                             hoverinfo='skip', showlegend=False))
    grid, fit, lo, hi = reg_band(xs, ys)
    fig.add_trace(go.Scatter(x=np.concatenate([grid, grid[::-1]]),
                             y=np.concatenate([hi, lo[::-1]]),
                             mode='lines', fill='toself', xaxis=xa, yaxis=ya,
                             fillcolor='rgba(150,150,150,0.2)', line=dict(width=0),
                             hoverinfo='skip', showlegend=False))
    fig.add_trace(go.Scatter(x=grid, y=fit, mode='lines', xaxis=xa, yaxis=ya,
                             line=dict(color='#7a7a7a', width=3),
                             hoverinfo='skip', showlegend=False))

    ymin, ymax = min(ys), max(ys)
    pad = 0.05 * (ymax - ymin)
    x0, x1 = col_px[i]
    top, bot = row_px[i]
    axis_common = dict(showline=True, linecolor=AXIS_COLOR, linewidth=1, mirror=False,
                       ticks='outside', ticklen=3.5, tickwidth=1, tickcolor=AXIS_COLOR,
                       tickfont=dict(family=FONT, size=11, color=TEXT_COLOR),
                       showgrid=False, zeroline=False, automargin=False)
    xaxis = dict(domain=[px_x(x0), px_x(x1)], range=[-0.4, 0.4], tickvals=x_ticks,
                 tickformat='.1f', anchor=ya, ticklabelstandoff=-5, **axis_common)
    yaxis = dict(domain=[px_y(bot), px_y(top)], range=[ymin - pad, ymax + pad],
                 tickvals=y_ticks[i], tickformat=y_tick_formats[i], anchor=xa,
                 ticklabelstandoff=-3, **axis_common)
    fig.update_layout(**{
        ('xaxis' if k == 1 else f'xaxis{k}'): xaxis,
        ('yaxis' if k == 1 else f'yaxis{k}'): yaxis,
    })

    cx = (x0 + x1) / 2
    title_y = 15 if i < 4 else 300
    annotations.append(dict(
        text=f"<i>r</i>={r_values[i]}, <i>P</i><sub><i>variogram</i></sub>={p_values[i]}",
        x=px_x(cx), y=px_y(title_y), xref='paper', yref='paper', showarrow=False,
        xanchor='center', yanchor='middle', font=dict(family=FONT, size=14.5, color=TEXT_COLOR)))
    xl_y = 275 if i < 4 else 560
    annotations.append(dict(
        text=x_label, x=px_x(cx), y=px_y(xl_y), xref='paper', yref='paper', showarrow=False,
        xanchor='center', yanchor='middle', font=dict(family=FONT, size=15, color=TEXT_COLOR)))
    annotations.append(dict(
        text=y_labels[i], x=px_x(ylab_x_px[i]), y=px_y((top + bot) / 2), xref='paper',
        yref='paper', showarrow=False, textangle=-90, xanchor='center', yanchor='middle',
        font=dict(family=FONT, size=16.5, color=TEXT_COLOR)))

fig.update_layout(width=W, height=H, autosize=False,
                  margin=dict(l=0, r=0, t=0, b=0, pad=0, autoexpand=False),
                  paper_bgcolor='white', plot_bgcolor='white',
                  showlegend=False, annotations=annotations)

fig.write_html("out.html")
